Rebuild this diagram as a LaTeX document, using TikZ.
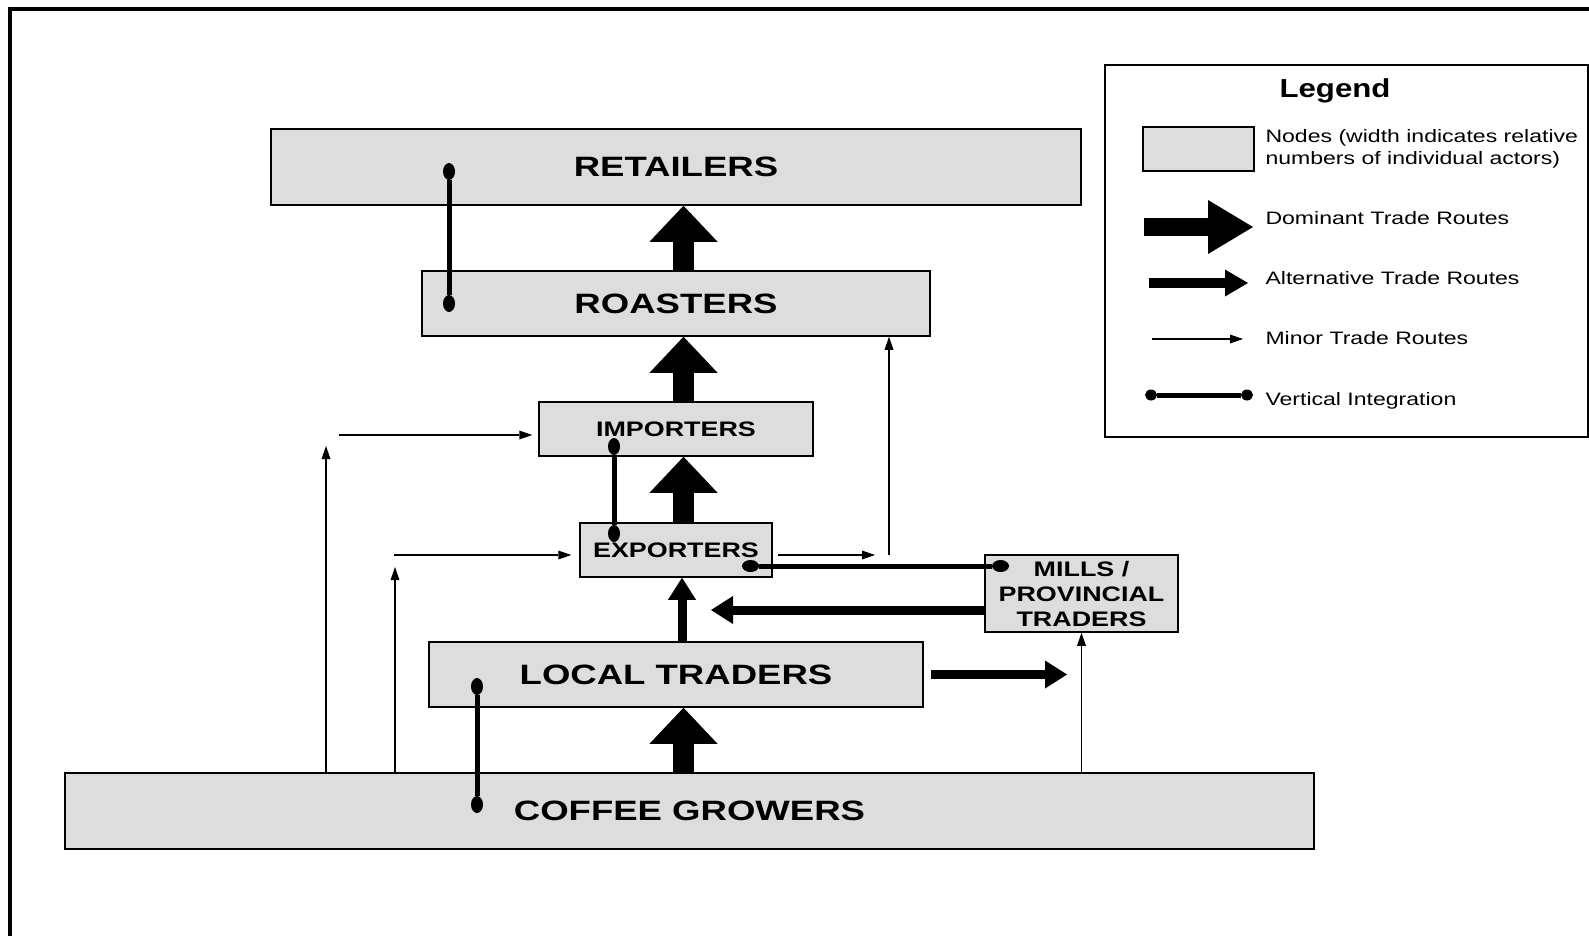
\documentclass[tikz,border=0pt]{standalone}
\usepackage{fontspec}
\setmainfont{Liberation Sans}
\usepackage{graphicx}
\usepackage{xcolor}
\usepackage{tikz}
\usetikzlibrary{arrows.meta}
\definecolor{boxgray}{RGB}{221,221,221}
\newcommand{\wide}[1]{\scalebox{1.28}[1]{#1}}
\newcommand{\bigwide}[1]{\scalebox{1.305}[1]{#1}}

\begin{document}
\begin{tikzpicture}[x=1pt,y=-1pt,
  actor/.style={draw,fill=boxgray,line width=1.5pt,inner sep=0pt,font=\fontsize{28}{34}\selectfont\bfseries},
  smallactor/.style={actor,align=center,font=\fontsize{21}{25}\selectfont\bfseries},
  dominant/.style={line width=21pt,-{Triangle[width=68pt,length=36pt,line width=0pt]}},
  altern/.style={line width=9pt,-{Triangle[width=28pt,length=22pt,line width=0pt]}},
  minor/.style={line width=1.4pt,-{Triangle[width=9pt,length=13pt,line width=0pt]}},
  integ/.style={line width=5pt,{Ellipse[length=17pt,width=12pt,line width=0pt]}-{Ellipse[length=17pt,width=12pt,line width=0pt]}},
  legtext/.style={anchor=base west,align=left,font=\fontsize{18}{22}\selectfont}]
\useasboundingbox (0,0) rectangle (1589,935);
\draw[line width=4pt] (10,950) -- (10,9) -- (1600,9);

\node[actor,minimum width=810pt,minimum height=76pt] (retailers) at (676,167) {\bigwide{RETAILERS}};
\node[actor,minimum width=508pt,minimum height=65pt] (roasters) at (676,303.5) {\bigwide{ROASTERS}};
\node[smallactor,minimum width=274pt,minimum height=54pt] (importers) at (676,429) {\wide{IMPORTERS}};
\node[smallactor,minimum width=192pt,minimum height=54pt] (exporters) at (676,550) {\wide{EXPORTERS}};
\node[smallactor,minimum width=193pt,minimum height=77pt] (mills) at (1081.5,593.5) {\wide{MILLS /}\\\wide{PROVINCIAL}\\\wide{TRADERS}};
\node[actor,minimum width=494pt,minimum height=65pt] (local) at (676,674.5) {\bigwide{LOCAL TRADERS}};
\node[actor,minimum width=1249pt,minimum height=76pt] (growers) at (689.5,811) {\bigwide{COFFEE GROWERS}};

\coordinate (axis) at (683.5,0);
\coordinate (altaxis) at (682,0);
\draw[dominant] (growers.north -| axis) -- (local.south -| axis);
\draw[altern] (local.north -| altaxis) -- (exporters.south -| altaxis);
\draw[dominant] (exporters.north -| axis) -- (importers.south -| axis);
\draw[dominant] (importers.north -| axis) -- (roasters.south -| axis);
\draw[dominant] (roasters.north -| axis) -- (retailers.south -| axis);

\coordinate (end5) at (711,610);
\draw[altern] (mills.west |- end5) -- (end5);
\coordinate (end6) at (1067,674.5);
\draw[altern,shorten <=7pt] (local.east |- end6) -- (end6);

\coordinate (top1) at (326,446);
\draw[minor] (growers.north -| top1) -- (top1);
\coordinate (start1) at (339,435);
\draw[minor,shorten >=6pt] (start1) -- (start1 -| importers.west);
\coordinate (top2) at (395,567);
\draw[minor] (growers.north -| top2) -- (top2);
\coordinate (start2) at (394,555);
\draw[minor,shorten >=8pt] (start2) -- (start2 -| exporters.west);
\coordinate (end3) at (875,555);
\draw[minor,shorten <=5pt] (exporters.east |- end3) -- (end3);
\coordinate (foot4) at (889,555);
\draw[minor] (foot4) -- (foot4 |- roasters.south);
\draw[minor] (growers.north -| mills) -- (mills.south);

\coordinate (vi1a) at (449,163);
\coordinate (vi1b) at (449,312);
\draw[integ] (vi1a) -- (vi1b);
\coordinate (vi2a) at (614,438);
\coordinate (vi2b) at (614,542);
\draw[integ] (vi2a) -- (vi2b);
\coordinate (vi3a) at (477,678);
\coordinate (vi3b) at (477,813);
\draw[integ] (vi3a) -- (vi3b);
\coordinate (vi4a) at (742,566);
\coordinate (vi4b) at (1009,566);
\draw[integ] (vi4a) -- (vi4b);

\node[draw,line width=1.5pt,minimum width=483pt,minimum height=372pt,inner sep=0pt] (legend) at (1346.5,251) {};
\node[anchor=base,font=\fontsize{26}{30}\selectfont\bfseries] (legtitle) at (1335,97) {\scalebox{1.2}[1]{Legend}};
\node[actor,minimum width=111pt,minimum height=44pt] (sample) at (1198.5,149) {};
\node[legtext] (lnodes) at (1262,164) {\wide{Nodes (width indicates relative}\\\wide{numbers of individual actors)}};
\coordinate (ld1) at (1144,227);
\coordinate (ld2) at (1253,227);
\draw[line width=18pt,-{Triangle[width=54pt,length=45pt,line width=0pt]}] (ld1) -- (ld2);
\node[legtext] (ldom) at (1262,224) {\wide{Dominant Trade Routes}};
\coordinate (la1) at (1149,283);
\coordinate (la2) at (1248,283);
\draw[line width=10pt,-{Triangle[width=27pt,length=23pt,line width=0pt]}] (la1) -- (la2);
\node[legtext] (lalt) at (1262,284) {\wide{Alternative Trade Routes}};
\coordinate (lm1) at (1152,339);
\coordinate (lm2) at (1243,339);
\draw[minor] (lm1) -- (lm2);
\node[legtext] (lmin) at (1262,344) {\wide{Minor Trade Routes}};
\coordinate (lv1) at (1145,395);
\coordinate (lv2) at (1253,395);
\draw[integ,{Ellipse[length=12pt,width=11pt,line width=0pt]}-{Ellipse[length=12pt,width=11pt,line width=0pt]}] (lv1) -- (lv2);
\node[legtext] (lvert) at (1262,405) {\wide{Vertical Integration}};
\end{tikzpicture}
\end{document}
